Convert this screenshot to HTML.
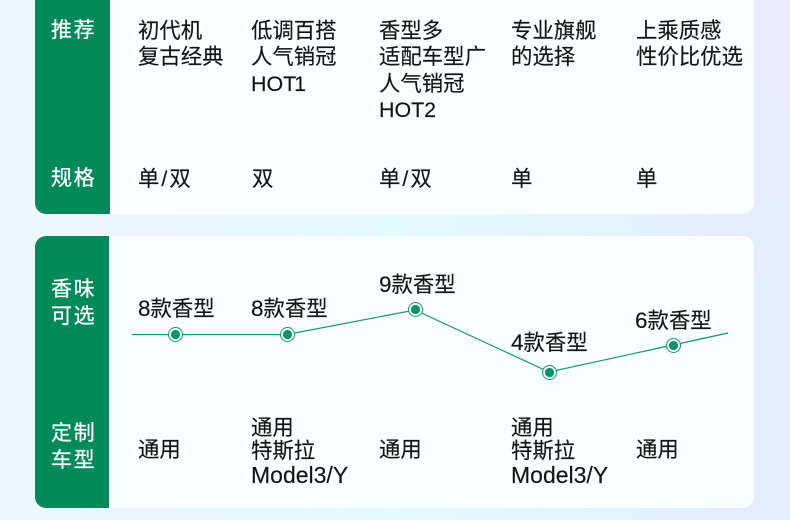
<!DOCTYPE html>
<html lang="zh">
<head>
<meta charset="utf-8">
<style>
html,body{margin:0;padding:0}
body{width:790px;height:520px;overflow:hidden;position:relative;background:#e8f8fd;font-family:"Liberation Sans","Noto Sans CJK SC",sans-serif;}
.bg{position:absolute;inset:0;background:
radial-gradient(ellipse 230px 260px at 810px 40px,#ebe9fd 0%,rgba(235,233,253,0) 100%),
linear-gradient(90deg,#eef7fe 0%,#e8f6fe 25%,#e2fbfd 50%,#e2f3fe 75%,#e2edfd 95%,#e2eefd 100%);}
.card{position:absolute;left:35px;width:719px;background:#fafdfd;border-radius:0 0 11px 11px}
.c1{top:-12px;height:226px}
.c2{top:236px;height:272px;border-radius:11px}
.side{position:absolute;left:35px;background:#028a5a}
.s1{top:-12px;height:226px;width:75px;border-radius:0 0 0 11px}
.s2{top:236px;height:272px;width:74px;border-radius:11px 0 0 11px}
.t{position:absolute;font-size:21.4px;line-height:26.5px;color:#141414;white-space:nowrap;-webkit-text-stroke:.15px #141414}
.w{position:absolute;left:51px;font-size:21px;line-height:27px;color:#fff;white-space:nowrap;letter-spacing:1.6px;-webkit-text-stroke:.25px #fff}
.s{margin:0 2px}
.d{font-size:22.5px}
.m{font-size:23px}
svg{position:absolute;left:0;top:0}
</style>
</head>
<body>
<div class="bg"></div>
<div class="card c1"></div>
<div class="card c2"></div>
<div class="side s1"></div>
<div class="side s2"></div>

<div class="w" style="top:17px">推荐</div>
<div class="w" style="top:165px">规格</div>
<div class="w" style="top:276px">香味<br>可选</div>
<div class="w" style="top:420px">定制<br>车型</div>

<div class="t" style="left:138px;top:17.5px">初代机<br>复古经典</div>
<div class="t" style="left:251px;top:17.5px">低调百搭<br>人气销冠<br>HOT<span style="margin-left:-2px">1</span></div>
<div class="t" style="left:379px;top:17.5px">香型多<br>适配车型广<br>人气销冠<br>HOT2</div>
<div class="t" style="left:511px;top:17.5px">专业旗舰<br>的选择</div>
<div class="t" style="left:636px;top:17.5px">上乘质感<br>性价比优选</div>

<div class="t" style="left:138px;top:166px">单<span class="s">/</span>双</div>
<div class="t" style="left:252px;top:166px">双</div>
<div class="t" style="left:379px;top:166px">单<span class="s">/</span>双</div>
<div class="t" style="left:511px;top:166px">单</div>
<div class="t" style="left:636px;top:166px">单</div>

<svg width="790" height="520" viewBox="0 0 790 520">
<polyline points="132,334.5 175,334.5 287,334.5 415,310 549,372 673,345 728,333" fill="none" stroke="#0f9a6b" stroke-width="1.2"/>
<g fill="#fafdfd" stroke="#0f9a6b" stroke-width="1">
<circle cx="175.500" cy="334.500" r="7"/>
<circle cx="287.500" cy="334.500" r="7"/>
<circle cx="415.500" cy="309.500" r="7"/>
<circle cx="549.500" cy="372.500" r="7"/>
<circle cx="673.500" cy="345.500" r="7"/>
</g>
<g fill="#0a9566">
<circle cx="175.500" cy="334.500" r="4.600"/>
<circle cx="287.500" cy="334.500" r="4.600"/>
<circle cx="415.500" cy="309.500" r="4.600"/>
<circle cx="549.500" cy="372.500" r="4.600"/>
<circle cx="673.500" cy="345.500" r="4.600"/>
</g>
</svg>

<div class="t" style="left:138px;top:296px"><span class="d">8</span>款香型</div>
<div class="t" style="left:251px;top:296px"><span class="d">8</span>款香型</div>
<div class="t" style="left:379px;top:272px"><span class="d">9</span>款香型</div>
<div class="t" style="left:511px;top:330px"><span class="d">4</span>款香型</div>
<div class="t" style="left:635px;top:308px"><span class="d">6</span>款香型</div>

<div class="t" style="left:138px;top:437px">通用</div>
<div class="t" style="left:251px;top:416.500px;line-height:23.500px">通用<br>特斯拉<br><span class="m">Model3/Y</span></div>
<div class="t" style="left:379px;top:437px">通用</div>
<div class="t" style="left:511px;top:416.500px;line-height:23.500px">通用<br>特斯拉<br><span class="m">Model3/Y</span></div>
<div class="t" style="left:636px;top:437px">通用</div>
</body>
</html>
